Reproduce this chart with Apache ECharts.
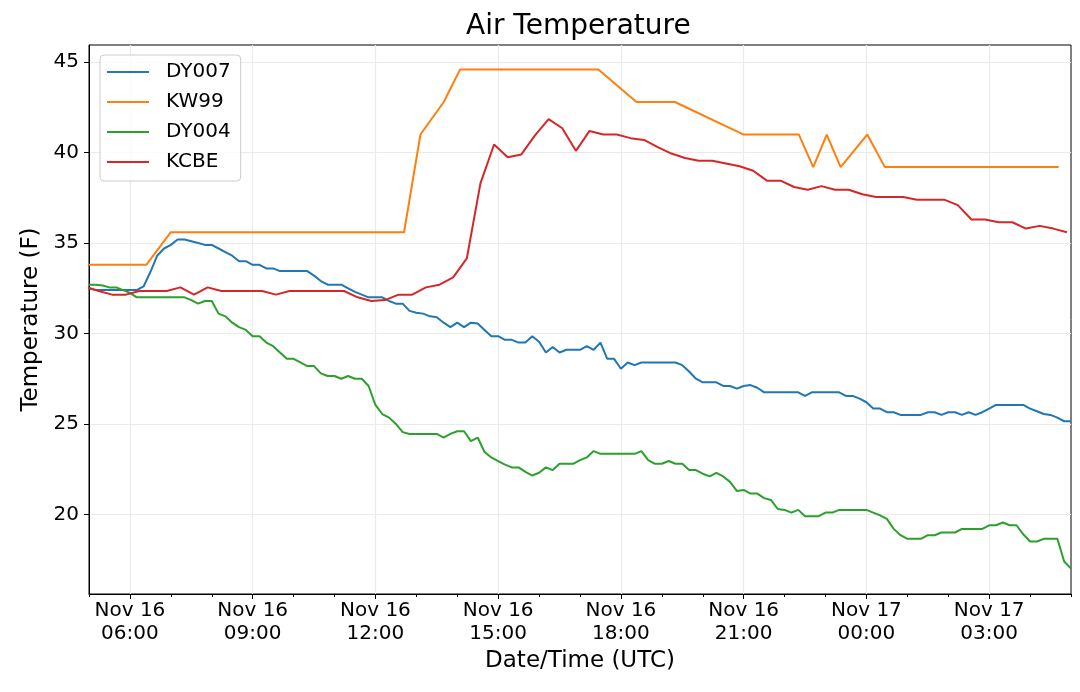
<!DOCTYPE html>
<html>
<head>
<meta charset="utf-8">
<title>Air Temperature</title>
<script src="https://cdn.jsdelivr.net/npm/echarts@6/dist/echarts.min.js"></script>
<style>
  html, body { margin: 0; padding: 0; background: #fff; }
  #chart { width: 1080px; height: 692px; }
</style>
</head>
<body>
<div id="chart"></div>
<script>
// all times are hours counted from Nov 16 00:00 UTC
const stationNames = ['DY007', 'KW99', 'DY004', 'KCBE'];
const stationColors = ['#1f77b4', '#ff7f0e', '#2ca02c', '#d62728'];

// DY007 and DY004 report every 10 minutes from 05:00
const tenMinStart = 5;
const tenMinStep = 1 / 6;
const dy007Temps = [
    32.5, 32.4, 32.4, 32.4, 32.4, 32.4,
    32.4, 32.4, 32.6, 33.4, 34.3, 34.7,
    34.9, 35.2, 35.2, 35.1, 35.0, 34.9,
    34.9, 34.7, 34.5, 34.3, 34.0, 34.0,
    33.8, 33.8, 33.6, 33.6, 33.45, 33.45,
    33.45, 33.45, 33.45, 33.2, 32.9, 32.7,
    32.7, 32.7, 32.5, 32.3, 32.15, 32.0,
    32.0, 32.0, 31.8, 31.65, 31.65, 31.25,
    31.15, 31.1, 30.95, 30.9, 30.6, 30.35,
    30.6, 30.35, 30.6, 30.55, 30.2, 29.85,
    29.85, 29.65, 29.65, 29.5, 29.5, 29.85,
    29.55, 28.95, 29.25, 28.95, 29.1, 29.1,
    29.1, 29.3, 29.1, 29.5, 28.6, 28.6,
    28.05, 28.4, 28.25, 28.4, 28.4, 28.4,
    28.4, 28.4, 28.4, 28.25, 27.9, 27.5,
    27.3, 27.3, 27.3, 27.1, 27.1, 26.95,
    27.1, 27.15, 27.0, 26.75, 26.75, 26.75,
    26.75, 26.75, 26.75, 26.55, 26.75, 26.75,
    26.75, 26.75, 26.75, 26.55, 26.55, 26.4,
    26.2, 25.85, 25.85, 25.65, 25.65, 25.5,
    25.5, 25.5, 25.5, 25.65, 25.65, 25.5,
    25.65, 25.65, 25.5, 25.65, 25.5, 25.65,
    25.85, 26.05, 26.05, 26.05, 26.05, 26.05,
    25.85, 25.7, 25.55, 25.5, 25.35, 25.15,
    25.15
];
const dy004Temps = [
    32.7, 32.7, 32.65, 32.55, 32.55, 32.4,
    32.25, 32.0, 32.0, 32.0, 32.0, 32.0,
    32.0, 32.0, 32.0, 31.85, 31.65, 31.8,
    31.8, 31.1, 30.95, 30.6, 30.35, 30.2,
    29.85, 29.85, 29.5, 29.3, 28.95, 28.6,
    28.6, 28.4, 28.2, 28.2, 27.8, 27.65,
    27.65, 27.5, 27.65, 27.5, 27.5, 27.1,
    26.05, 25.55, 25.35, 25.0, 24.55, 24.45,
    24.45, 24.45, 24.45, 24.45, 24.25, 24.45,
    24.6, 24.6, 24.05, 24.25, 23.45, 23.15,
    22.95, 22.75, 22.6, 22.6, 22.35, 22.15,
    22.3, 22.6, 22.45, 22.8, 22.8, 22.8,
    23.0, 23.15, 23.5, 23.35, 23.35, 23.35,
    23.35, 23.35, 23.35, 23.5, 23.0, 22.8,
    22.8, 22.95, 22.8, 22.8, 22.45, 22.45,
    22.25, 22.1, 22.3, 22.1, 21.8, 21.3,
    21.35, 21.15, 21.15, 20.9, 20.8, 20.3,
    20.25, 20.1, 20.25, 19.9, 19.9, 19.9,
    20.1, 20.1, 20.25, 20.25, 20.25, 20.25,
    20.25, 20.1, 19.95, 19.75, 19.2, 18.85,
    18.65, 18.65, 18.65, 18.85, 18.85, 19.0,
    19.0, 19.0, 19.2, 19.2, 19.2, 19.2,
    19.4, 19.4, 19.55, 19.4, 19.4, 18.9,
    18.5, 18.5, 18.65, 18.65, 18.65, 17.4,
    17.0
];

// KCBE reports every 20 minutes
const kcbeStart = 4.9;
const kcbeStep = 1 / 3;
const kcbeTemps = [
    32.6, 32.35, 32.15, 32.15, 32.35, 32.35, 32.35, 32.55, 32.15, 32.55,
    32.35, 32.35, 32.35, 32.35, 32.15, 32.35, 32.35, 32.35, 32.35, 32.35,
    32.0, 31.8, 31.85, 32.15, 32.15, 32.55, 32.7, 33.1, 34.15, 38.3,
    40.45, 39.75, 39.9, 40.95, 41.85, 41.35, 40.1, 41.2, 41.0, 41.0,
    40.8, 40.7, 40.3, 39.95, 39.7, 39.55, 39.55, 39.4, 39.25, 39.0,
    38.45, 38.45, 38.1, 37.95, 38.15, 37.95, 37.95, 37.7, 37.55, 37.55,
    37.55, 37.4, 37.4, 37.4, 37.1, 36.3, 36.3, 36.15, 36.15, 35.8,
    35.95, 35.8, 35.6
];

// KW99 reports irregularly
const kw99Hours = [5.0, 6.4, 7.0, 12.7, 13.1, 13.67, 14.07, 17.45, 18.38, 19.32,
    21.0, 22.35, 22.7, 23.03, 23.37, 24.02, 24.45, 28.7];
const kw99Temps = [33.8, 33.8, 35.6, 35.6, 41.0, 42.8, 44.6, 44.6, 42.8, 42.8,
    41.0, 41.0, 39.2, 41.0, 39.2, 41.0, 39.2, 39.2];

const majorHours = [6, 9, 12, 15, 18, 21, 24, 27];
const minorHours = [5, 6, 7, 8, 9, 10, 11, 12, 13, 14, 15, 16, 17, 18, 19, 20,
    21, 22, 23, 24, 25, 26, 27, 28, 29];
const tempTicks = [20, 25, 30, 35, 40, 45];

const fontFamily = 'DejaVu Sans';

function regular(start, step, temps) {
    return temps.map((t, i) => [start + i * step, t]);
}

function timeLabel(h) {
    const day = 16 + Math.floor(h / 24);
    const hh = String(h % 24).padStart(2, '0');
    return 'Nov ' + day + '\n' + hh + ':00';
}

const seriesData = [
    regular(tenMinStart, tenMinStep, dy007Temps),
    kw99Hours.map((h, i) => [h, kw99Temps[i]]),
    regular(tenMinStart, tenMinStep, dy004Temps),
    regular(kcbeStart, kcbeStep, kcbeTemps),
];

const chart = echarts.init(document.getElementById('chart'));

const options = {
    animation: false,
    backgroundColor: '#fff',
    textStyle: { fontFamily: fontFamily },
    title: {
        text: 'Air Temperature',
        left: 466,
        top: 13,
        padding: 0,
        textStyle: { fontSize: 28, fontWeight: 'normal', color: '#000', fontFamily: fontFamily },
    },
    legend: {
        orient: 'vertical',
        left: 100,
        top: 55,
        data: stationNames,
        icon: 'rect',
        itemWidth: 42,
        itemHeight: 2,
        itemGap: 10,
        padding: [7, 10, 9, 7],
        borderColor: '#cccccc',
        borderWidth: 1,
        borderRadius: 4,
        backgroundColor: 'rgba(255,255,255,0.8)',
        selectedMode: false,
        textStyle: { fontSize: 20, color: '#000', fontFamily: fontFamily, lineHeight: 20, padding: [0, 0, 0, 12] },
    },
    grid: {
        left: 89,
        right: 9,
        top: 45,
        bottom: 98,
        show: true,
        borderColor: '#000',
        borderWidth: 1,
        backgroundColor: 'transparent',
    },
    xAxis: [
        {
            type: 'value',
            min: 5,
            max: 29,
            name: 'Date/Time (UTC)',
            nameLocation: 'middle',
            nameGap: 51,
            nameTextStyle: { fontSize: 23, color: '#000', fontFamily: fontFamily },
            axisLine: { show: true, lineStyle: { color: '#000', width: 1 } },
            axisTick: { show: true, length: 5, customValues: majorHours, lineStyle: { color: '#000' } },
            axisLabel: {
                customValues: majorHours,
                formatter: timeLabel,
                fontSize: 20,
                lineHeight: 23,
                margin: 5,
                color: '#000',
                fontFamily: fontFamily,
            },
            splitLine: { show: true, lineStyle: { color: '#ebebeb', width: 1.2 } },
        },
        {
            type: 'value',
            min: 5,
            max: 29,
            position: 'bottom',
            axisLine: { show: false },
            axisTick: { show: true, length: 3, customValues: minorHours, lineStyle: { color: '#000' } },
            axisLabel: { show: false },
            splitLine: { show: false },
        },
    ],
    yAxis: {
        type: 'value',
        min: 15.6,
        max: 45.95,
        name: 'Temperature (F)',
        nameLocation: 'middle',
        nameGap: 42,
        nameTextStyle: { fontSize: 23, color: '#000', fontFamily: fontFamily },
        axisLine: { show: true, lineStyle: { color: '#000', width: 1 } },
        axisTick: { show: true, length: 5, customValues: tempTicks, lineStyle: { color: '#000' } },
        axisLabel: { customValues: tempTicks, fontSize: 20, margin: 10, color: '#000', fontFamily: fontFamily },
        splitLine: { show: true, lineStyle: { color: '#ebebeb', width: 1.2 } },
    },
    series: stationNames.map((name, i) => ({
        name: name,
        type: 'line',
        data: seriesData[i],
        showSymbol: false,
        color: stationColors[i],
        lineStyle: { width: 2, color: stationColors[i] },
    })),
};

chart.setOption(options);
</script>
</body>
</html>
